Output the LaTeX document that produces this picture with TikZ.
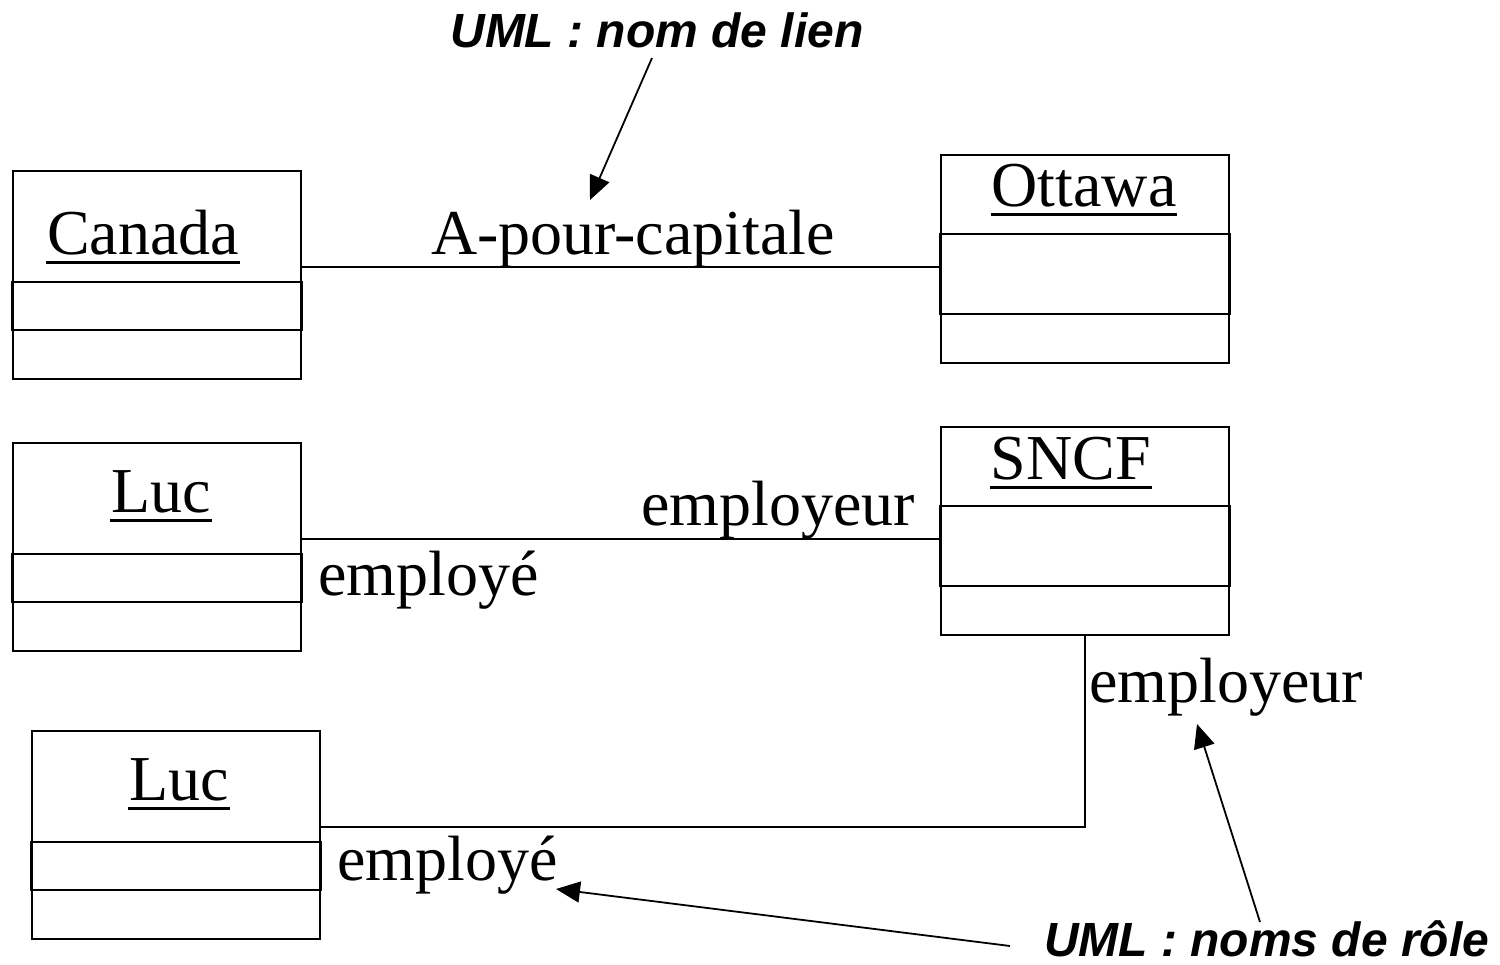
\documentclass[tikz,border=0pt]{standalone}
\usepackage{fontspec}
\setmainfont{Liberation Serif}
\newfontfamily\notefont{Liberation Sans}
\usetikzlibrary{arrows.meta}
\newcommand\compart[2]{\draw[line width=2.4pt] ([yshift=-#2pt]#1.north west) rectangle ([yshift=-160pt]#1.north east);}
\newcommand\uline[1]{\draw[line width=3pt] ([yshift=-8pt]#1.base west) -- ([yshift=-8pt]#1.base east);}
\begin{document}
\begin{tikzpicture}[x=1pt,y=-1pt,line width=2pt,
  objbox/.style={draw, minimum width=288pt, minimum height=208pt, inner sep=0pt, anchor=north west},
  objname/.style={anchor=base, inner sep=0pt, font=\fontsize{64}{70}\selectfont},
  role/.style={anchor=base west, inner sep=0pt, font=\fontsize{64}{70}\selectfont},
  linkname/.style={anchor=base, inner sep=0pt, font=\fontsize{64}{70}\selectfont},
  note/.style={inner sep=0pt, font=\notefont\bfseries\itshape\fontsize{48}{54}\selectfont},
  pointer/.style={-{Triangle[length=24pt,width=21pt]}, line width=1.8pt}]
\useasboundingbox (0,0) rectangle (1500,965);

% object boxes
\node[objbox] (canada) at (12,170) {};
\node[objbox] (ottawa) at (940,154) {};
\node[objbox] (luca) at (12,442) {};
\node[objbox] (sncf) at (940,426) {};
\node[objbox] (lucb) at (31,730) {};

\compart{canada}{112}
\compart{ottawa}{80}
\compart{luca}{112}
\compart{sncf}{80}
\compart{lucb}{112}

% object names
\node[objname] (tcanada) at (143,255) {Canada};
\node[objname] (tottawa) at (1084,207) {Ottawa};
\node[objname] (tluca) at (161,512) {Luc};
\node[objname] (tsncf) at (1071,480) {SNCF};
\node[objname] (tlucb) at (179,800) {Luc};
\uline{tcanada}
\uline{tottawa}
\uline{tluca}
\uline{tsncf}
\uline{tlucb}

% links
\draw ([yshift=8pt]canada.east) -- ([yshift=8pt]canada.east -| ottawa.west);
\draw ([yshift=8pt]luca.east) -- ([yshift=8pt]luca.east -| sncf.west);
\draw (sncf.south) |- ([yshift=8pt]lucb.east);

% link and role names
\node[linkname] (capitale) at (633,255) {A-pour-capitale};
\node[role] (emp1) at (640,525) {employeur};
\node[role] (emp2) at (317,595) {employé};
\node[role] (emp3) at (1088,702) {employeur};
\node[role] (emp4) at (336,880) {employé};

% notes
\node[note, anchor=base] (nlien) at (657,48) {UML : nom de lien};
\node[note, anchor=base west] (nrole) at (1043,956) {UML : noms de rôle};

\coordinate (a1s) at (652,58);
\coordinate (a1e) at (590,200);
\coordinate (a2s) at (1260,922);
\coordinate (a2e) at (1197,724);
\coordinate (a3s) at (1010,946);
\coordinate (a3e) at (556,889);
\draw[pointer] (a1s) -- (a1e);
\draw[pointer] (a2s) -- (a2e);
\draw[pointer] (a3s) -- (a3e);
\end{tikzpicture}
\end{document}
